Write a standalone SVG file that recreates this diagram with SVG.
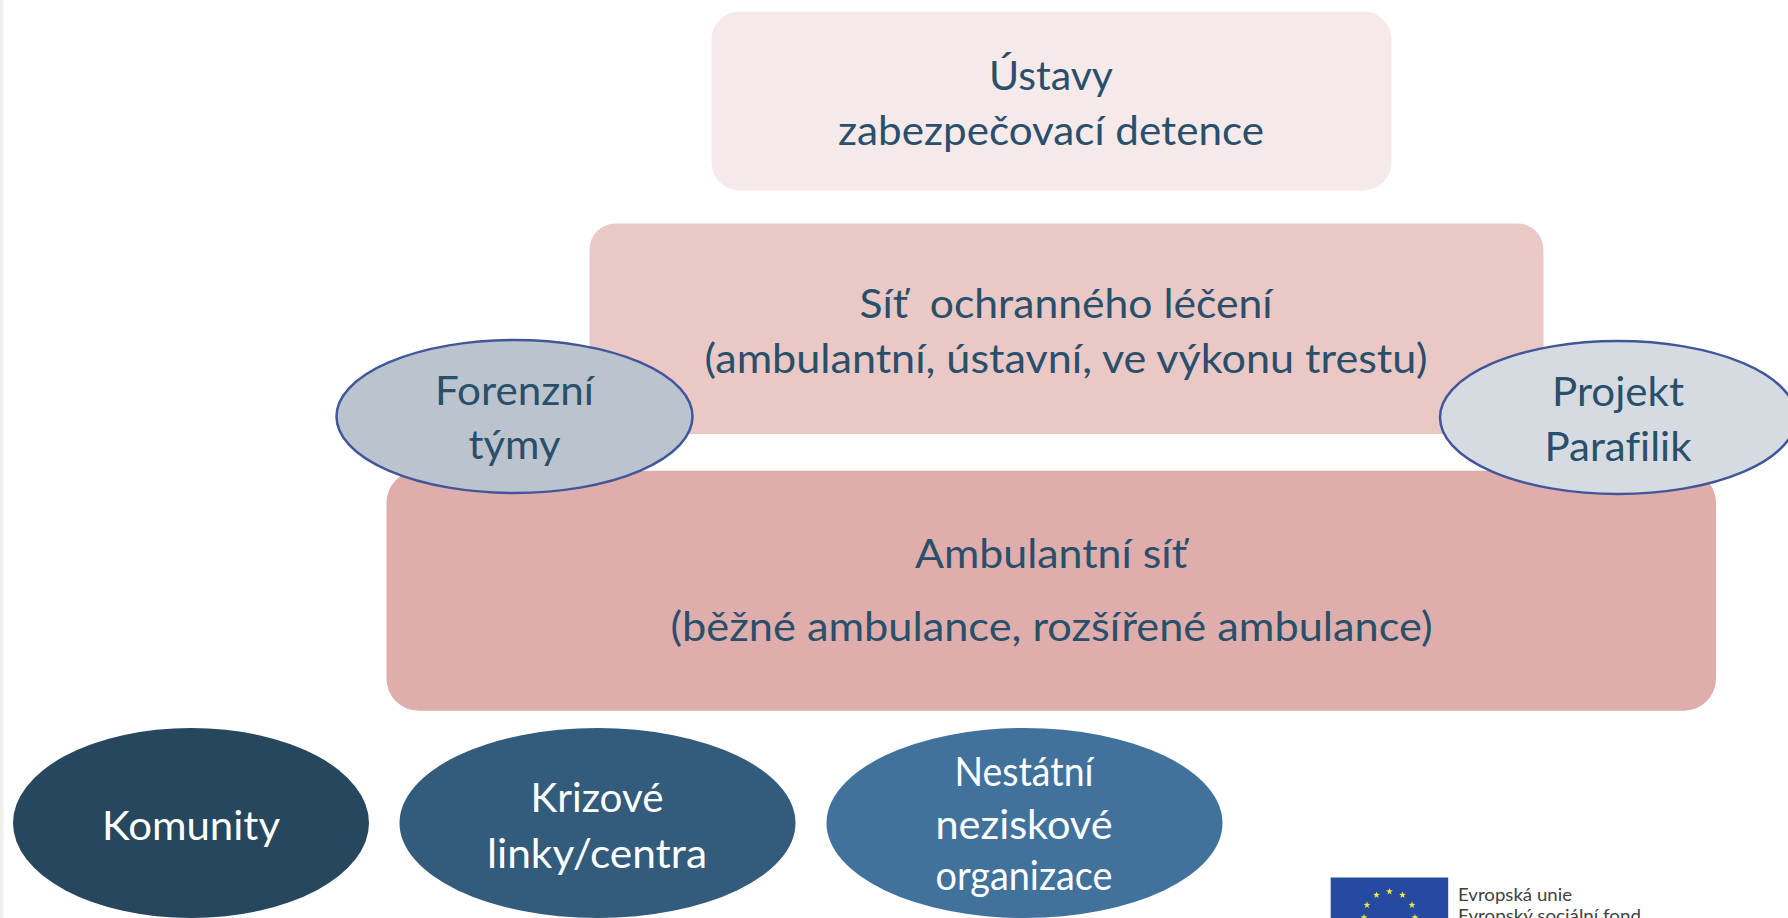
<svg xmlns="http://www.w3.org/2000/svg" width="1788" height="918" viewBox="0 0 1788 918">
<style>
text{font-family:Lato,"Liberation Sans",sans-serif;font-size:41px;text-anchor:middle;fill:#2a4f6b;white-space:pre;font-variant-ligatures:none}
.w{fill:#fff}
.s{font-size:17.5px;text-anchor:start;fill:#404040}
.o{stroke:#41569b;stroke-width:2.5}
</style>
<defs><polygon id="star" fill="#f5e63c" points="0,-3.6 0.85,-1.15 3.4,-1.1 1.35,0.45 2.1,2.9 0,1.45 -2.1,2.9 -1.35,0.45 -3.4,-1.1 -0.85,-1.15"/></defs>
<rect width="1788" height="918" fill="#fff"/>
<rect width="3.5" height="918" fill="#f0f0f0"/>
<g id="node-ustavy"><rect x="711.5" y="11.5" width="680" height="179" rx="28" fill="#f6e9ea"/>
<text x="1051" y="90" textLength="124" lengthAdjust="spacingAndGlyphs">Ústavy</text>
<text x="1051" y="145" textLength="426" lengthAdjust="spacingAndGlyphs">zabezpečovací detence</text></g>
<g id="node-sit"><rect x="589.5" y="223.5" width="954" height="210.5" rx="26" fill="#e9c8c6"/>
<text x="1066" y="318" textLength="413" lengthAdjust="spacingAndGlyphs">Síť  ochranného léčení</text>
<text x="1066" y="373" textLength="723" lengthAdjust="spacingAndGlyphs">(ambulantní, ústavní, ve výkonu trestu)</text></g>
<g id="node-ambulantni"><rect x="386.5" y="470.7" width="1329.5" height="240" rx="32" fill="#dfadab"/>
<text x="1051" y="567.5" textLength="272" lengthAdjust="spacingAndGlyphs">Ambulantní síť</text>
<text x="1051.5" y="640.5" textLength="762" lengthAdjust="spacingAndGlyphs">(běžné ambulance, rozšířené ambulance)</text></g>
<g id="node-forenzni"><ellipse class="o" cx="514.5" cy="416.5" rx="178" ry="76.5" fill="#bbc4ce"/>
<text x="514.5" y="405" textLength="159" lengthAdjust="spacingAndGlyphs">Forenzní</text>
<text x="514.5" y="459" textLength="92" lengthAdjust="spacingAndGlyphs">týmy</text></g>
<g id="node-parafilik"><ellipse class="o" cx="1618" cy="417.5" rx="178" ry="76.5" fill="#d6dbe2"/>
<text x="1618" y="406" textLength="132" lengthAdjust="spacingAndGlyphs">Projekt</text>
<text x="1618" y="461" textLength="147" lengthAdjust="spacingAndGlyphs">Parafilik</text></g>
<g id="node-komunity"><ellipse cx="191" cy="823" rx="178" ry="95" fill="#27475e"/>
<text class="w" x="191" y="840" textLength="178" lengthAdjust="spacingAndGlyphs">Komunity</text></g>
<g id="node-krizove"><ellipse cx="597.5" cy="823" rx="198" ry="95" fill="#335b7b"/>
<text class="w" x="597" y="812" textLength="133" lengthAdjust="spacingAndGlyphs">Krizové</text>
<text class="w" x="597" y="868" textLength="220" lengthAdjust="spacingAndGlyphs">linky/centra</text></g>
<g id="node-nestatni"><ellipse cx="1024.5" cy="823" rx="198" ry="95" fill="#41729c"/>
<text class="w" x="1024" y="785.5" textLength="139" lengthAdjust="spacingAndGlyphs">Nestátní</text>
<text class="w" x="1024" y="838.5" textLength="177" lengthAdjust="spacingAndGlyphs">neziskové</text>
<text class="w" x="1024" y="889.5" textLength="177" lengthAdjust="spacingAndGlyphs">organizace</text></g>
<g id="logo-eu"><rect x="1330.7" y="877.5" width="117.5" height="40.5" fill="#264aa0"/>
<use href="#star" x="1389.5" y="891.5"/><use href="#star" x="1376.5" y="895"/><use href="#star" x="1402.5" y="895"/>
<use href="#star" x="1367" y="905"/><use href="#star" x="1412" y="905"/><use href="#star" x="1364" y="917.5"/><use href="#star" x="1415" y="917.5"/>
<text class="s" x="1458" y="901" textLength="114" lengthAdjust="spacingAndGlyphs">Evropská unie</text>
<text class="s" x="1458" y="922" textLength="183" lengthAdjust="spacingAndGlyphs">Evropský sociální fond</text></g>
<g id="connectors"></g>
</svg>
